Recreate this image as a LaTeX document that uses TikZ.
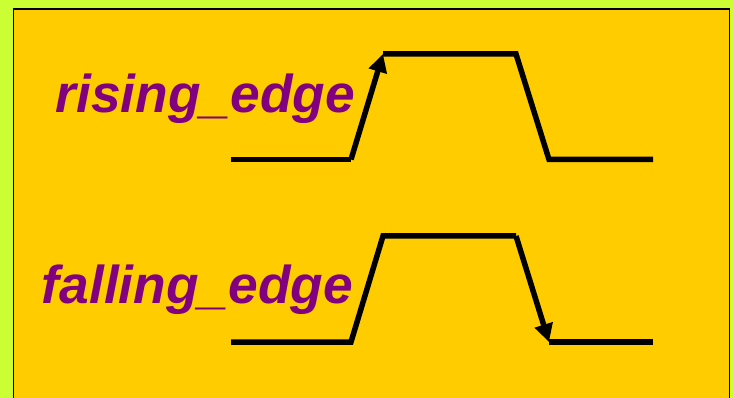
\documentclass[tikz,border=0pt]{standalone}
\usepackage{fontspec}
\setmainfont{Liberation Sans}
\usetikzlibrary{arrows.meta}
\definecolor{lime}{HTML}{CCFF33}
\definecolor{gold}{HTML}{FFCC00}
\definecolor{purp}{HTML}{800080}
\tikzset{
  wave/.style={line width=5.5pt, line join=miter, black},
  edgearrow/.style={wave, -{Triangle[length=18pt,width=18pt]}},
  lbl/.style={font=\fontsize{53.3}{60}\selectfont\bfseries\itshape, text=purp, anchor=base east, inner sep=0pt},
}
\begin{document}
\begin{tikzpicture}[x=1pt,y=-1pt]
\fill[lime] (0,0) rectangle (734,398);
\useasboundingbox (0,0) rectangle (734,398);
\filldraw[fill=gold, draw=black, line width=1.4pt] (13.5,9) rectangle (729.5,420);
% rising edge waveform
\coordinate (r0) at (231,159.5);
\coordinate (r1) at (351,159.5);
\coordinate (r2) at (383,54);
\coordinate (r3) at (516,54);
\coordinate (r4) at (549,159.5);
\coordinate (r5) at (653,159.5);
\draw[wave] (r0) -- (r1);
\draw[wave] (r2) -- (r3) -- (r4) -- (r5);
\draw[edgearrow] (r1) -- (r2);
% falling edge waveform
\coordinate (f0) at (231,342);
\coordinate (f1) at (351,342);
\coordinate (f2) at (383,236);
\coordinate (f3) at (516,236);
\coordinate (f4) at (549,342);
\coordinate (f5) at (653,342);
\draw[wave] (f0) -- (f1) -- (f2) -- (f3);
\draw[wave] (f4) -- (f5);
\draw[edgearrow] (f3) -- (f4);
\node[lbl] (rl) at (355,113) {rising\_edge};
\node[lbl] (fl) at (353,303) {falling\_edge};
\end{tikzpicture}
\end{document}
